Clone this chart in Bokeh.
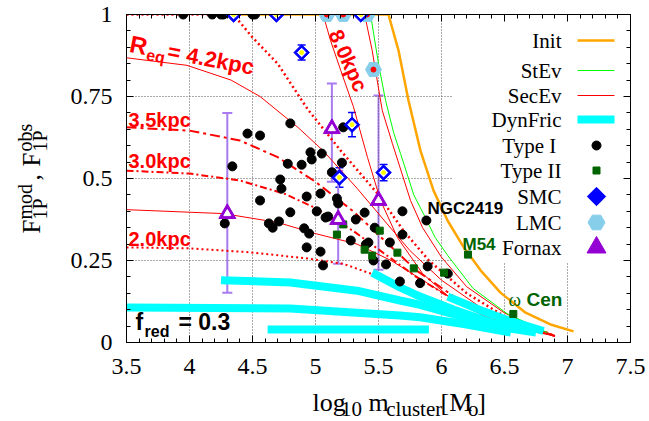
import math
from bokeh.plotting import figure
from bokeh.layouts import row, column
from bokeh.models import (Range1d, LinearAxis, SingleIntervalTicker, CustomJSTickFormatter,
                          Label, Whisker, TeeHead, ColumnDataSource)
from bokeh.embed import file_html
from bokeh.resources import INLINE

# ---------------- data ----------------
init_x = [4.35, 5.579, 5.659, 5.738, 5.833, 5.937, 6.048, 6.167, 6.310, 6.468, 6.667, 6.865, 7.048]
init_y = [1.0, 1.0, 0.890, 0.738, 0.585, 0.463, 0.372, 0.296, 0.220, 0.152, 0.091, 0.055, 0.034]

stev_x = [4.35, 5.437, 5.50, 5.556, 5.62, 5.675, 5.78, 5.86, 5.95, 6.05, 6.25, 6.52, 6.76, 6.84]
stev_y = [1.0, 1.0, 0.85, 0.738, 0.64, 0.576, 0.45, 0.39, 0.32, 0.265, 0.165, 0.088, 0.045, 0.03]

# SecEv family (R_eq values)
sec_8kpc_x = [4.9, 5.06, 5.12, 5.20, 5.30, 5.413, 5.516, 5.65, 5.85, 6.10, 6.40, 6.70, 6.90]
sec_8kpc_y = [1.0, 1.0, 0.92, 0.83, 0.72, 0.564, 0.433, 0.32, 0.21, 0.125, 0.07, 0.035, 0.02]
sec_10kpc_x = [5.2, 5.39, 5.45, 5.53, 5.61, 5.754, 5.85, 6.00, 6.20, 6.50, 6.75, 6.90]
sec_10kpc_y = [1.0, 1.0, 0.89, 0.707, 0.607, 0.433, 0.35, 0.26, 0.17, 0.09, 0.045, 0.02]
sec_6kpc_x = [3.5, 4.35, 4.50, 4.70, 4.94, 5.20, 5.49, 5.70, 5.90, 6.20, 6.50, 6.90]
sec_6kpc_y = [1.0, 1.0, 0.93, 0.85, 0.71, 0.585, 0.455, 0.34, 0.25, 0.15, 0.08, 0.02]
sec_42kpc_x = [3.5, 3.98, 4.33, 4.56, 4.86, 5.06, 5.33, 5.55, 5.75, 6.00, 6.30, 6.60, 6.90]
sec_42kpc_y = [0.868, 0.845, 0.80, 0.75, 0.656, 0.585, 0.47, 0.37, 0.28, 0.19, 0.11, 0.055, 0.02]
sec_35kpc_x = [3.5, 4.0, 4.4, 4.7, 5.0, 5.3, 5.55, 5.8, 6.1, 6.4, 6.9]
sec_35kpc_y = [0.656, 0.646, 0.616, 0.565, 0.49, 0.40, 0.31, 0.22, 0.14, 0.08, 0.02]
sec_30kpc_x = [3.5, 4.0, 4.4, 4.75, 5.0, 5.3, 5.55, 5.8, 6.1, 6.4, 6.9]
sec_30kpc_y = [0.524, 0.515, 0.494, 0.454, 0.41, 0.34, 0.27, 0.20, 0.13, 0.075, 0.02]
sec_25kpc_x = [3.5, 4.27, 4.7, 5.0, 5.33, 5.6, 5.85, 6.1, 6.4, 6.9]
sec_25kpc_y = [0.405, 0.393, 0.366, 0.332, 0.30, 0.25, 0.19, 0.13, 0.075, 0.02]
sec_20kpc_x = [3.5, 4.0, 4.48, 4.94, 5.22, 5.44]
sec_20kpc_y = [0.29, 0.287, 0.275, 0.256, 0.24, 0.21]

# DynFric curves
dyn1_x = [4.25, 4.8, 5.33, 5.67, 5.83, 6.2, 6.5, 6.75]
dyn1_y = [0.19, 0.183, 0.158, 0.128, 0.115, 0.075, 0.045, 0.03]
dyn2_x = [3.5, 4.8, 5.67, 5.83, 6.2, 6.55]
dyn2_y = [0.107, 0.104, 0.082, 0.077, 0.055, 0.03]
dyn3_x = [4.62, 5.9]
dyn3_y = [0.04, 0.04]
dyn4_x = [5.45, 5.67, 5.83, 6.1, 6.4, 6.7]
dyn4_y = [0.213, 0.168, 0.14, 0.10, 0.06, 0.035]
dyn5_x = [6.05, 6.3, 6.55, 6.81]
dyn5_y = [0.14, 0.10, 0.065, 0.035]

type1_x = [3.95, 4.18, 4.25, 4.27, 4.50, 4.52,
           4.80, 4.46, 4.56, 4.34, 4.78, 4.89, 4.96, 4.97, 5.05, 5.21, 5.13, 5.22, 4.72, 4.73,
           4.93, 5.04, 4.56, 4.80, 4.28, 4.63, 4.66, 4.71, 4.91, 4.95, 4.93, 5.04, 5.06, 5.01,
           5.17, 5.18, 5.08, 5.10, 5.28, 5.32, 5.39, 5.47, 5.40, 5.42, 5.46, 5.56, 5.59, 5.69,
           5.69, 5.67, 5.83, 5.88, 5.89, 6.05]
type1_y = [1.0, 1.0, 1.0, 1.0, 1.0, 1.0,
           0.668, 0.637, 0.631, 0.537, 0.545, 0.542, 0.580, 0.558, 0.576, 0.548, 0.519, 0.656, 0.497, 0.469,
           0.445, 0.454, 0.433, 0.397, 0.363, 0.363, 0.350, 0.369, 0.348, 0.332, 0.290, 0.277, 0.235, 0.400,
           0.439, 0.424, 0.381, 0.384, 0.311, 0.375, 0.396, 0.350, 0.299, 0.305, 0.250, 0.238, 0.305, 0.400,
           0.329, 0.186, 0.181, 0.372, 0.232, 0.210]

type2_x = [5.17, 5.22, 5.51, 5.39, 5.45, 5.65, 5.78, 6.02, 6.21, 6.57]
type2_y = [0.329, 0.36, 0.341, 0.283, 0.265, 0.274, 0.226, 0.213, 0.268, 0.087]

smc_x = [4.35, 4.69, 5.36, 4.89, 5.29, 5.19, 5.54]
smc_y = [1.0, 1.0, 1.0, 0.884, 0.664, 0.503, 0.518]
smc_err = [0.0, 0.0, 0.0, 0.023, 0.037, 0.03, 0.025]

lmc_x = [5.09, 5.22, 5.41, 5.46]
lmc_y = [1.0, 1.0, 1.0, 0.832]
lmc_err = [0.0, 0.0, 0.0, 0.02]

fornax_x = [4.30, 5.13, 5.18, 5.50]
fornax_y = [0.393, 0.652, 0.375, 0.433]
fornax_lo = [0.152, 0.49, 0.24, 0.222]
fornax_hi = [0.70, 0.79, 0.524, 0.753]

legend_labels = ["Init", "StEv", "SecEv", "DynFric", "Type  I", "Type II", "SMC", "LMC", "Fornax"]

x_ticks_interval = 0.5
y_ticks_interval = 0.25

# ---------------- styling ----------------
ORANGE = "#FFA500"
GREEN = "#00FF00"
RED = "#FF0000"
CYAN = "#00FFFF"
DKGREEN = "#006400"
BLUE = "#0000FF"
SKY = "#87CEEB"
VIOLET = "#9400D3"
LVIOLET = "#A87BF0"
SERIF = "Liberation Serif"
SANS = "Liberation Sans"

# page-pixel helpers (frame: x 3.5..7.5 over page px 126..630, y 0..1 over page px 342..14)
def dx(px):
    return 3.5 + (px - 126) / 126.0

def dy(py):
    return (342 - py) / 328.0

LEFT_W = 64
MAIN_H = 388
TOTAL_H = 421
p = figure(width=585, height=MAIN_H, x_range=Range1d(3.5, 7.5), y_range=Range1d(0, 1),
           output_backend="svg", toolbar_location=None,
           min_border_left=126 - LEFT_W, min_border_right=19, min_border_top=14,
           min_border_bottom=MAIN_H - 342)
p.background_fill_color = "white"
p.border_fill_color = "white"
p.outline_line_color = "black"
p.outline_line_width = 1
p.xgrid.visible = False
p.ygrid.visible = False

fmt = CustomJSTickFormatter(code="return String(Math.round(tick*100)/100);")
blank = CustomJSTickFormatter(code="return '';")
p.xaxis.ticker = SingleIntervalTicker(interval=x_ticks_interval, num_minor_ticks=5)
p.yaxis.ticker = SingleIntervalTicker(interval=y_ticks_interval, num_minor_ticks=5)
for ax in (p.xaxis[0], p.yaxis[0]):
    ax.formatter = fmt
    ax.major_tick_in = 7
    ax.major_tick_out = 0
    ax.minor_tick_in = 4
    ax.minor_tick_out = 0
    ax.axis_line_color = "black"
    ax.major_tick_line_color = "black"
    ax.minor_tick_line_color = "black"
    ax.major_label_text_font = SERIF
    ax.major_label_text_font_size = "24px"
    ax.major_label_text_color = "black"
p.xaxis.major_label_standoff = 16
p.yaxis.major_label_standoff = 14

for loc, interval in (("above", x_ticks_interval), ("right", y_ticks_interval)):
    ax = LinearAxis(ticker=SingleIntervalTicker(interval=interval, num_minor_ticks=5), formatter=blank)
    ax.major_tick_in = 7
    ax.major_tick_out = 0
    ax.minor_tick_in = 4
    ax.minor_tick_out = 0
    ax.major_label_standoff = 0
    ax.axis_line_color = "black"
    p.add_layout(ax, loc)

# grid (hidden behind the opaque key area on the upper right)
grid_kw = dict(line_color="#555555", line_width=1, line_dash="1 2")
for gx in [4.0, 4.5, 5.0, 5.5, 6.0]:
    p.line([gx, gx], [0, 1], **grid_kw)
for gx in [6.5, 7.0]:
    p.line([gx, gx], [0, 0.243], **grid_kw)
for gy in [0.25, 0.5, 0.75]:
    p.line([3.5, 6.087], [gy, gy], **grid_kw)

# SecEv
p.line(sec_6kpc_x, sec_6kpc_y, line_color=RED, line_width=2.5, line_dash="2 3")
p.line(sec_8kpc_x, sec_8kpc_y, line_color=RED, line_width=1)
p.line(sec_10kpc_x, sec_10kpc_y, line_color=RED, line_width=1)
p.line(sec_42kpc_x, sec_42kpc_y, line_color=RED, line_width=1)
p.line(sec_35kpc_x, sec_35kpc_y, line_color=RED, line_width=2, line_dash="10 4 3 4")
p.line(sec_30kpc_x, sec_30kpc_y, line_color=RED, line_width=2, line_dash="7 3 2 3")
p.line(sec_25kpc_x, sec_25kpc_y, line_color=RED, line_width=1)
p.line(sec_20kpc_x, sec_20kpc_y, line_color=RED, line_width=2, line_dash="2 3")

# StEv / Init
p.line(stev_x, stev_y, line_color=GREEN, line_width=1)
p.line(init_x, init_y, line_color=ORANGE, line_width=2.5)

# DynFric
for xs, ys in ((dyn1_x, dyn1_y), (dyn2_x, dyn2_y), (dyn3_x, dyn3_y), (dyn4_x, dyn4_y), (dyn5_x, dyn5_y)):
    p.line(xs, ys, line_color=CYAN, line_width=8)

# observations
p.scatter(type1_x, type1_y, marker="circle", size=9, fill_color="black", line_color="black")
p.scatter(type2_x, type2_y, marker="square", size=7, fill_color=DKGREEN, line_color=DKGREEN)

smc_src = ColumnDataSource(dict(x=smc_x, y=smc_y,
                                lo=[a - b for a, b in zip(smc_y, smc_err)],
                                hi=[a + b for a, b in zip(smc_y, smc_err)]))
p.add_layout(Whisker(source=smc_src, base="x", lower="lo", upper="hi", dimension="height",
                     line_color=BLUE, line_width=1.5,
                     upper_head=TeeHead(size=8, line_color=BLUE, line_width=1.5),
                     lower_head=TeeHead(size=8, line_color=BLUE, line_width=1.5)))
lmc_src = ColumnDataSource(dict(x=lmc_x, y=lmc_y,
                                lo=[a - b for a, b in zip(lmc_y, lmc_err)],
                                hi=[a + b for a, b in zip(lmc_y, lmc_err)]))
p.add_layout(Whisker(source=lmc_src, base="x", lower="lo", upper="hi", dimension="height",
                     line_color=SKY, line_width=1.5,
                     upper_head=TeeHead(size=8, line_color=SKY, line_width=1.5),
                     lower_head=TeeHead(size=8, line_color=SKY, line_width=1.5)))
fx_src = ColumnDataSource(dict(x=fornax_x, y=fornax_y, lo=fornax_lo, hi=fornax_hi))
p.add_layout(Whisker(source=fx_src, base="x", lower="lo", upper="hi", dimension="height",
                     line_color=LVIOLET, line_width=2,
                     upper_head=TeeHead(size=10, line_color=LVIOLET, line_width=2),
                     lower_head=TeeHead(size=10, line_color=LVIOLET, line_width=2)))

p.scatter("x", "y", source=lmc_src, marker="hex", size=16, fill_color=SKY, line_color=SKY)
p.scatter("x", "y", source=lmc_src, marker="circle", size=5, fill_color=RED, line_color=RED)
p.scatter("x", "y", source=smc_src, marker="square", angle=math.pi / 4, size=11,
          fill_color=BLUE, line_color=BLUE)
p.scatter("x", "y", source=smc_src, marker="square", angle=math.pi / 4, size=6,
          fill_color="white", line_color="white")
p.scatter("x", "y", source=smc_src, marker="circle", size=4, fill_color="yellow", line_color="yellow")
p.scatter("x", "y", source=fx_src, marker="triangle", size=17, fill_color=VIOLET, line_color=VIOLET)
p.scatter("x", "y", source=fx_src, marker="triangle", size=7, fill_color="white", line_color="white")

# ---------------- key (upper right) ----------------
key_y = [dy(40), dy(70), dy(95), dy(119), dy(145), dy(170), dy(196), dy(222), dy(247)]
for txt, ky in zip(legend_labels, key_y):
    p.add_layout(Label(x=dx(561), y=ky, text=txt, text_align="right", text_baseline="middle",
                       text_font=SERIF, text_font_size="21px", text_color="black"))
kx0, kx1, km = dx(577), dx(614), dx(596)
p.line([kx0, kx1], [key_y[0]] * 2, line_color=ORANGE, line_width=2.5)
p.line([kx0, kx1], [key_y[1]] * 2, line_color=GREEN, line_width=1)
p.line([kx0, kx1], [key_y[2]] * 2, line_color=RED, line_width=1)
p.line([kx0, kx1], [key_y[3]] * 2, line_color=CYAN, line_width=8)
p.scatter([km], [key_y[4]], marker="circle", size=9, fill_color="black", line_color="black")
p.scatter([km], [key_y[5]], marker="square", size=7, fill_color=DKGREEN, line_color=DKGREEN)
p.scatter([km], [key_y[6]], marker="square", angle=math.pi / 4, size=13, fill_color=BLUE, line_color=BLUE)
p.scatter([km], [key_y[7]], marker="hex", size=17, fill_color=SKY, line_color=SKY)
p.scatter([km], [key_y[8]], marker="triangle", size=19, fill_color=VIOLET, line_color=VIOLET)

# ---------------- annotations (anchored at the vertical middle of the text) ----------------
def lab(fig, x, y, text, size, color="black", font=SANS, style="bold", angle=0.0, align="left"):
    fig.add_layout(Label(x=x, y=y, text=text, text_font=font, text_font_size=size,
                         text_font_style=style, text_color=color, angle=angle,
                         text_align=align, text_baseline="middle"))

ang = -11 * math.pi / 180
lab(p, dx(129.6), dy(42.8), "R", "24px", RED, angle=ang)
lab(p, dx(146.1), dy(54.0), "eq", "16px", RED, angle=ang)
lab(p, dx(167.5), dy(50.4), "= 4.2kpc", "22px", RED, angle=ang)
lab(p, dx(348), dy(60), "8.0kpc", "21px", RED, angle=-66 * math.pi / 180, align="center")
lab(p, dx(128), dy(119), "3.5kpc", "20px", RED)
lab(p, dx(128), dy(160), "3.0kpc", "20px", RED)
lab(p, dx(128), dy(238), "2.0kpc", "20px", RED)
lab(p, dx(135), dy(321), "f", "23px", "black")
lab(p, dx(144), dy(331), "red", "16px", "black")
lab(p, dx(178), dy(321), "= 0.3", "23px", "black")
lab(p, dx(427), dy(208), "NGC2419", "17px", "black")
lab(p, dx(462), dy(243.5), "M54", "17px", DKGREEN)
lab(p, dx(508), dy(299), "\u03c9", "19px", DKGREEN, font=SERIF, style="normal")
lab(p, dx(526), dy(299), "Cen", "19px", DKGREEN)

# ---------------- axis titles (own text panels, page-pixel coordinates) ----------------
def text_panel(w, h, x0, y0):
    f = figure(width=w, height=h, x_range=Range1d(x0, x0 + w), y_range=Range1d(-(y0 + h), -y0),
               output_backend="svg", toolbar_location=None, x_axis_location=None,
               y_axis_location=None, min_border=0, title=None)
    f.outline_line_color = None
    f.background_fill_color = "white"
    f.border_fill_color = "white"
    f.xgrid.visible = False
    f.ygrid.visible = False
    return f

xfig = text_panel(585, TOTAL_H - MAIN_H, LEFT_W, MAIN_H)
bx, sx = -402, -408.5
lab(xfig, 280, bx, "log", "26px", font=SERIF, style="normal")
lab(xfig, 313, sx, "10", "21px", font=SERIF, style="normal")
lab(xfig, 345, bx, "m", "26px", font=SERIF, style="normal")
lab(xfig, 365.5, sx, "cluster", "21px", font=SERIF, style="normal")
lab(xfig, 428.5, bx, "[M", "26px", font=SERIF, style="normal")
lab(xfig, 460.5, sx, "o", "21px", font=SERIF, style="normal")
lab(xfig, 471, bx, "]", "26px", font=SERIF, style="normal")

yfig = text_panel(LEFT_W, TOTAL_H, 0, 0)
up = math.pi / 2
lab(yfig, 31, -233, "F", "25px", font=SERIF, style="normal", angle=up)
lab(yfig, 24, -219, "mod", "20px", font=SERIF, style="normal", angle=up)
lab(yfig, 39, -219, "1P", "20px", font=SERIF, style="normal", angle=up)
lab(yfig, 31, -180, ",", "25px", font=SERIF, style="normal", angle=up)
lab(yfig, 31, -166, "F", "25px", font=SERIF, style="normal", angle=up)
lab(yfig, 24, -151, "obs", "20px", font=SERIF, style="normal", angle=up)
lab(yfig, 39, -151, "1P", "20px", font=SERIF, style="normal", angle=up)

layout = row(yfig, column(p, xfig, spacing=0), spacing=0)
open("out.html", "w").write(file_html(layout, INLINE))
